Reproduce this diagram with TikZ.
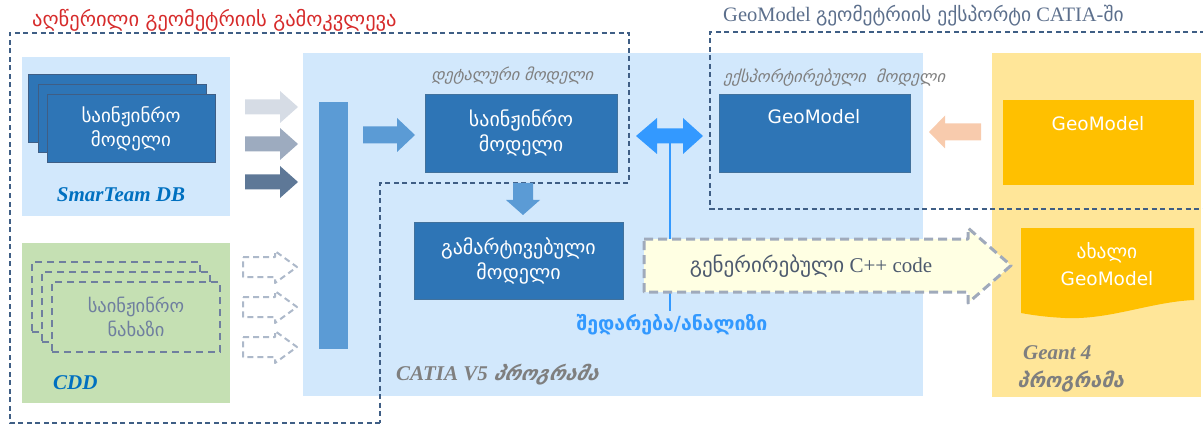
\documentclass[tikz,border=0pt]{standalone}
\usepackage{fontspec}
\setmainfont{Liberation Serif}
\newfontfamily\geo{DejaVu Sans}
\newfontfamily\geoit[FakeSlant=0.25]{DejaVu Sans}
\definecolor{lblue}{HTML}{D2E8FC}
\definecolor{lgreen}{HTML}{C5E0B3}
\definecolor{ybg}{HTML}{FFE699}
\definecolor{gold}{HTML}{FFC000}
\definecolor{dblue}{HTML}{2E75B6}
\definecolor{dborder}{HTML}{41719C}
\definecolor{mblue}{HTML}{5B9BD5}
\definecolor{dashcol}{HTML}{3F5E85}
\definecolor{cddash}{HTML}{6F7F9F}
\definecolor{titlered}{HTML}{D62B2B}
\definecolor{titlegray}{HTML}{5C6F8C}
\definecolor{brightblue}{HTML}{3399FF}
\definecolor{orangea}{HTML}{F8CBAD}
\definecolor{ga}{HTML}{D6DCE5}
\definecolor{gb}{HTML}{9DABBF}
\definecolor{gc}{HTML}{5E7897}
\definecolor{dashar}{HTML}{ADB9CA}
\definecolor{cream}{HTML}{FFFFE3}
\definecolor{codeedge}{HTML}{A0AABB}
\definecolor{labgray}{HTML}{7F7F7F}
\definecolor{txtgray}{HTML}{4D5A6E}
\definecolor{sblue}{HTML}{0070C0}
\begin{document}
\begin{tikzpicture}[x=1pt,y=-1pt,
  bg/.style={inner sep=0pt,outer sep=0pt,draw=none},
  darkbox/.style={inner sep=0pt,outer sep=0pt,fill=dblue,draw=dborder,line width=0.8pt,text=white,align=center,font=\geo\fontsize{20}{25}\selectfont},
  stackbox/.style={darkbox,draw=dashcol,line width=1pt,minimum width=168pt,minimum height=68pt,font=\geo\fontsize{19}{24}\selectfont},
  cddbox/.style={inner sep=0pt,outer sep=0pt,fill=lgreen,draw=cddash,line width=2.5pt,dash pattern=on 7pt off 5pt,minimum width=168pt,minimum height=70pt,align=center,text=cddash,font=\geo\fontsize{18.5}{24}\selectfont},
  region/.style={draw=dashcol,line width=1.3pt,dash pattern=on 5pt off 3.5pt},
  itlab/.style={text=labgray,font=\geoit\fontsize{16.3}{18}\selectfont,inner sep=0pt},
  biglab/.style={font=\bfseries\itshape\fontsize{21}{24}\selectfont,inner sep=0pt},
  dasharrow/.style={draw=dashar,line width=2pt,dash pattern=on 6pt off 4pt,line join=round}
]
\useasboundingbox (0,0) rectangle (1203,425);
% background regions
\node[bg,fill=lblue,minimum width=208pt,minimum height=159pt] (smar) at (126,136.5) {};
\node[bg,fill=lgreen,minimum width=208pt,minimum height=160pt] (cdd) at (126,323) {};
\node[bg,fill=lblue,minimum width=620pt,minimum height=343pt] (catia) at (613,224.5) {};
\node[bg,fill=ybg,minimum width=209pt,minimum height=344pt] (geant) at (1096.5,225) {};
% dashed regions
\draw[region] (380,423) -- (10,423) -- (10,33) -- (629,33) -- (629,183) -- (380,183) -- cycle;
\draw[region] (1205,32) -- (710,32) -- (710,209) -- (1205,209);
% titles
\node[anchor=west,inner sep=0pt,text=titlered,font=\geo\fontsize{20.5}{22}\selectfont] (t1) at (32,20) {აღწერილი გეომეტრიის გამოკვლევა};
\node[anchor=west,inner sep=0pt,text=titlegray,font=\fontsize{20.5}{22}\selectfont] (t2) at (723,16) {GeoModel {\geo\fontsize{19.5}{22}\selectfont გეომეტრიის ექსპორტი} CATIA-{\geo\fontsize{19.5}{22}\selectfont ში}};
% SmarTeam stack
\node[stackbox] (st1) at (112.5,109) {};
\node[stackbox] (st2) at (122,119) {};
\node[stackbox] (st3) at (131,129) {საინჟინრო\\მოდელი};
\node[biglab,text=sblue] (smtxt) at (121,195) {SmarTeam DB};
% CDD stack
\node[cddbox] (cd1) at (116,297) {};
\node[cddbox] (cd2) at (126,307) {};
\node[cddbox] (cd3) at (136,317) {საინჟინრო\\ნახაზი};
\node[biglab,text=sblue,anchor=west] (cddtxt) at (53,383) {CDD};
% gray arrows
\fill[ga] (245,99.5) -- (280,99.5) -- (280,91) -- (298,107) -- (280,123) -- (280,114.5) -- (245,114.5) -- cycle;
\fill[gb] (245,136.5) -- (280,136.5) -- (280,128) -- (298,144) -- (280,160) -- (280,151.5) -- (245,151.5) -- cycle;
\fill[gc] (245,174.5) -- (280,174.5) -- (280,166) -- (298,182) -- (280,198) -- (280,189.5) -- (245,189.5) -- cycle;
% dashed arrows
\foreach \yy in {267,307,347}{
  \draw[dasharrow] (243,\yy-10) -- (275,\yy-10) -- (275,\yy-16) -- (297,\yy) -- (275,\yy+16) -- (275,\yy+10) -- (243,\yy+10) -- cycle;
}
% vertical bar
\node[bg,fill=mblue,minimum width=29pt,minimum height=247pt] (bar) at (333.5,225.5) {};
% blue right arrow
\fill[mblue] (363,126.5) -- (397,126.5) -- (397,118) -- (415,135) -- (397,152) -- (397,143.5) -- (363,143.5) -- cycle;
% engineering model
\node[itlab] (detlab) at (512,76) {დეტალური მოდელი};
\node[darkbox,minimum width=192pt,minimum height=78pt] (eng) at (521,133) {საინჟინრო\\მოდელი};
% down arrow
\fill[mblue] (513,183) -- (533,183) -- (533,200) -- (540,200) -- (523,215) -- (506,200) -- (513,200) -- cycle;
\node[darkbox,minimum width=209pt,minimum height=77pt] (simp) at (518.5,260.5) {გამარტივებული\\მოდელი};
% comparison line and double arrow
\draw[brightblue,line width=2pt] (670,143) -- (670,311);
\fill[brightblue] (636,136) -- (657,118) -- (657,128.5) -- (683,128.5) -- (683,118) -- (703,136) -- (683,154) -- (683,143.5) -- (657,143.5) -- (657,154) -- cycle;
\node[inner sep=0pt,text=brightblue,font=\geo\bfseries\fontsize{19.5}{22}\selectfont] (cmp) at (672,325) {შედარება/ანალიზი};
% exported model
\node[itlab] (explab) at (834,78) {ექსპორტირებული\ \ მოდელი};
\node[darkbox,minimum width=191pt,minimum height=78pt] (gexp) at (814.5,133) {};
\node[inner sep=0pt,text=white,font=\geo\fontsize{18.5}{20}\selectfont] (gexptxt) at (814,117) {GeoModel};
% orange arrow
\fill[orangea] (929,132) -- (945,115.5) -- (945,123.5) -- (981,123.5) -- (981,140.5) -- (945,140.5) -- (945,148.5) -- cycle;
% yellow GeoModel
\node[bg,fill=gold,minimum width=191pt,minimum height=85pt] (gy) at (1098.5,142.5) {};
\node[inner sep=0pt,text=white,font=\geo\fontsize{18.5}{20}\selectfont] (gytxt) at (1098,124) {GeoModel};
% new GeoModel document
\fill[gold] (1021,228) -- (1194,228) -- (1194,300) .. controls (1150,302) and (1110,320) .. (1065,318) .. controls (1045,317) and (1032,315) .. (1021,313) -- cycle;
\node[inner sep=0pt,text=white,font=\geo\fontsize{19.4}{22}\selectfont] (newa) at (1107,253) {ახალი};
\node[inner sep=0pt,text=white,font=\geo\fontsize{18.5}{20}\selectfont] (newb) at (1107,279) {GeoModel};
% code arrow
\filldraw[fill=cream,draw=codeedge,line width=3pt,dash pattern=on 9pt off 5pt,line join=round] (644,239) -- (968,239) -- (968,228) -- (1011,265.5) -- (968,303) -- (968,292) -- (644,292) -- cycle;
\node[inner sep=0pt,text=txtgray,font=\fontsize{21}{24}\selectfont] (code) at (811,266) {{\geo\fontsize{21}{24}\selectfont გენერირებული} C++ code};
% program labels
\node[biglab,text=labgray,anchor=west] (catlab) at (396,375) {CATIA V5 {\geoit\bfseries\fontsize{19.7}{22}\selectfont პროგრამა}};
\node[biglab,text=labgray,anchor=west] (gl1) at (1023,353) {Geant 4};
\node[anchor=west,inner sep=0pt,text=labgray,font=\geoit\bfseries\fontsize{20}{22}\selectfont] (gl2) at (1017,382) {პროგრამა};
\end{tikzpicture}
\end{document}
